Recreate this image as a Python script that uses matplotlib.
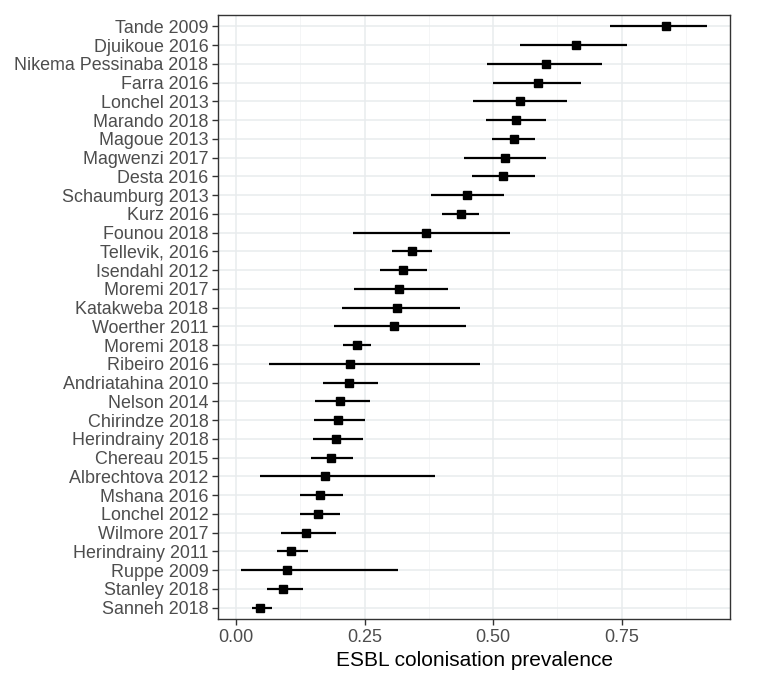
import matplotlib.pyplot as plt
import numpy as np

plt.rcParams['font.family'] = ['Liberation Sans', 'DejaVu Sans']

# studies from top to bottom
studies = ["Tande 2009", "Djuikoue 2016", "Nikema Pessinaba 2018", "Farra 2016",
           "Lonchel 2013", "Marando 2018", "Magoue 2013", "Magwenzi 2017",
           "Desta 2016", "Schaumburg 2013", "Kurz 2016", "Founou 2018",
           "Tellevik, 2016", "Isendahl 2012", "Moremi 2017", "Katakweba 2018",
           "Woerther 2011", "Moremi 2018", "Ribeiro 2016", "Andriatahina 2010",
           "Nelson 2014", "Chirindze 2018", "Herindrainy 2018", "Chereau 2015",
           "Albrechtova 2012", "Mshana 2016", "Lonchel 2012", "Wilmore 2017",
           "Herindrainy 2011", "Ruppe 2009", "Stanley 2018", "Sanneh 2018"]
prev = [0.837, 0.662, 0.603, 0.588, 0.552, 0.544, 0.540, 0.523, 0.519, 0.449,
        0.437, 0.370, 0.343, 0.325, 0.316, 0.313, 0.308, 0.235, 0.221, 0.219,
        0.203, 0.198, 0.195, 0.184, 0.172, 0.163, 0.160, 0.135, 0.106, 0.098,
        0.092, 0.047]
lower = [0.727, 0.552, 0.489, 0.500, 0.460, 0.487, 0.498, 0.444, 0.458, 0.379,
         0.401, 0.228, 0.304, 0.279, 0.229, 0.206, 0.190, 0.208, 0.063, 0.169,
         0.154, 0.152, 0.149, 0.145, 0.047, 0.125, 0.124, 0.088, 0.079, 0.010,
         0.061, 0.031]
upper = [0.916, 0.760, 0.711, 0.672, 0.643, 0.602, 0.581, 0.602, 0.581, 0.521,
         0.473, 0.532, 0.381, 0.372, 0.413, 0.435, 0.447, 0.263, 0.475, 0.277,
         0.261, 0.251, 0.247, 0.228, 0.386, 0.208, 0.203, 0.195, 0.139, 0.315,
         0.130, 0.069]

n = len(studies)
y = np.arange(n)[::-1]

fig = plt.figure(figsize=(7.74, 6.88), dpi=100)
ax = fig.add_axes([218 / 774, 69 / 688, 512 / 774, 604 / 688])

ax.hlines(y, lower, upper, color='black', lw=1.6, zorder=3)
ax.plot(prev, y, 's', color='black', ms=5.6, zorder=4)

ax.set_xlim(-0.0353, 0.961)
ax.set_ylim(-0.6, n - 0.4)
ax.set_yticks(y)
ax.set_yticklabels(studies, fontsize=12.9)
ax.set_xticks([0, 0.25, 0.5, 0.75])
ax.set_xticklabels(["0.00", "0.25", "0.50", "0.75"], fontsize=13)
ax.set_xticks([0.125, 0.375, 0.625, 0.875], minor=True)

ax.grid(True, which='major', color='#E8ECEE', lw=1.1, zorder=0)
ax.grid(True, which='minor', axis='x', color='#F2F4F5', lw=0.6, zorder=0)
ax.set_axisbelow(True)

for s in ax.spines.values():
    s.set_color('#333333')
    s.set_linewidth(1.0)
ax.tick_params(which='major', color='#333333', length=4, width=1,
               labelcolor='#4D4D4D', pad=3)
ax.tick_params(which='minor', length=0)

ax.set_xlabel("ESBL colonisation prevalence", fontsize=15, color='black', labelpad=4)

fig.savefig("out.png", dpi=100)
